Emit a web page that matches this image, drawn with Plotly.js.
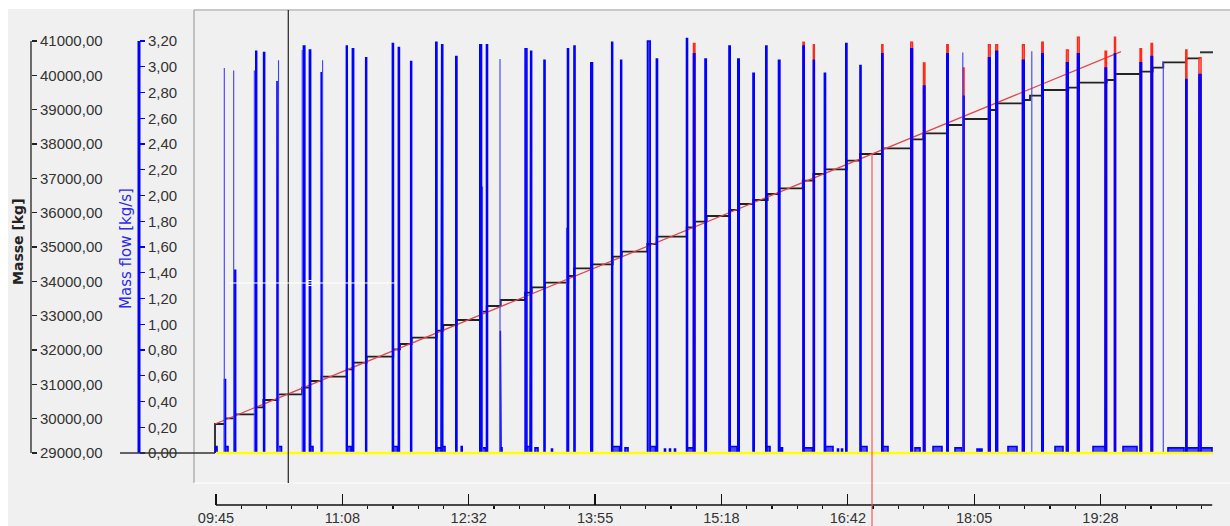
<!DOCTYPE html>
<html><head><meta charset="utf-8">
<script src="https://cdn.plot.ly/plotly-3.0.1.min.js"></script>
<style>html,body{margin:0;padding:0;background:#fff}#chart{width:1230px;height:526px}</style>
</head><body><div id="chart"></div>
<script>
const DAY = '2024-01-01 ';
// ---- Mass flow (blue) pulses: start, end, peak [kg/s]
const flowStart = ['09:44:40','09:50:36','09:51:16','09:57:24','10:11:15','10:16:24','10:25:14','10:25:38','10:42:38','10:46:36','10:47:23','10:54:23','11:11:00','11:11:32','11:14:57','11:23:44','11:41:20','11:42:00','11:45:17','11:53:24','12:09:57','12:10:41','12:13:51','12:14:31','12:23:09','12:26:43','12:38:59','12:40:06','12:43:23','12:52:30','12:52:58','13:08:51','13:10:02','13:12:32','13:15:23','13:21:19','13:26:16','13:36:49','13:41:06','13:52:11','14:05:58','14:06:34','14:11:54','14:14:44','14:29:34','14:31:21','14:35:26','14:40:47','14:44:05','14:47:23','14:55:18','14:55:57','14:59:55','15:07:30','15:23:19','15:24:07','15:29:08','15:39:09','15:47:35','15:48:19','15:55:58','15:57:57','16:12:08','16:12:55','16:18:59','16:26:14','16:26:58','16:34:53','16:37:31','16:40:21','16:49:43','16:50:23','17:04:06','17:04:49','17:23:13','17:25:59','17:31:36','17:37:52','17:46:58','17:52:22','17:57:47','18:06:53','18:09:11','18:14:28','18:19:17','18:27:19','18:36:53','18:49:37','18:58:19','19:05:54','19:13:10','19:23:23','19:31:22','19:37:34','19:43:10','19:54:26','20:01:42','20:12:50','20:24:35','20:25:19','20:33:17','20:34:37'];
const flowEnd = ['09:45:40','09:51:16','09:52:55','09:57:56','10:11:47','10:17:03','10:25:38','10:28:12','10:43:34','10:47:23','10:48:58','10:54:47','11:11:32','11:14:02','11:15:45','11:24:19','11:42:00','11:44:42','11:45:57','11:54:00','12:10:41','12:13:23','12:14:31','12:16:02','12:23:52','12:27:22','12:40:06','12:42:44','12:44:03','12:52:58','12:53:37','13:10:02','13:12:05','13:13:08','13:17:22','13:21:59','13:26:55','13:37:28','13:41:46','13:53:18','14:06:34','14:11:07','14:12:29','14:16:43','14:31:21','14:34:51','14:36:10','14:41:27','14:44:44','14:48:02','14:55:57','14:59:47','15:00:50','15:08:21','15:24:07','15:28:36','15:30:03','15:39:56','15:48:19','15:50:22','15:56:53','15:58:37','16:12:55','16:18:23','16:19:35','16:26:58','16:31:55','16:35:32','16:38:11','16:41:05','16:50:23','16:54:20','17:04:49','17:08:11','17:24:20','17:29:17','17:32:31','17:43:48','17:47:53','17:56:59','17:58:19','18:08:12','18:10:11','18:15:35','18:20:24','18:33:16','18:38:01','18:50:32','19:03:36','19:07:02','19:14:17','19:31:18','19:32:17','19:38:13','19:52:24','19:55:22','20:02:37','20:23:24','20:25:19','20:32:58','20:34:37','20:41:52'];
const flowPeak = [0.05,0.57,0.05,1.42,3.12,3.11,2.89,0.05,3.16,3.13,0.05,2.96,3.16,0.05,3.14,3.07,3.18,0.05,3.15,3.04,3.19,0.04,3.17,0.05,3.08,0.05,3.17,0.04,3.17,0.95,0.04,3.14,0.05,3.12,0.04,3.05,0.03,3.14,3.16,3.03,3.19,0.05,3.05,0.04,3.20,0.05,3.06,0.03,0.03,0.03,3.22,0.04,3.10,3.06,3.16,0.05,3.06,2.95,3.16,0.05,3.05,0.04,3.16,0.04,3.05,2.95,0.05,0.03,0.03,3.18,3.01,0.05,3.10,0.05,3.14,0.04,2.85,0.05,3.10,0.04,2.77,0.03,0.03,3.07,3.12,0.05,3.05,3.10,0.05,3.03,3.10,0.05,2.99,3.10,0.05,3.03,3.08,0.04,2.90,0.04,2.94,0.04];
// ---- short (thin) mass flow spikes
const spikeTime = ['09:50:28','09:56:40','10:10:16','10:26:13','10:41:51','10:55:18','12:40:46','12:52:18','13:36:09','17:57:31','18:43:01','20:09:44'];
const spikePeak = [2.99,2.97,2.97,3.05,3.13,3.05,2.07,3.06,1.75,3.11,3.12,3.04];
// ---- second flow signal (red) pulses
const redStart = ['14:59:55','16:12:08','16:18:59','17:04:06','17:23:13','17:31:36','17:46:58','17:57:47','18:14:28','18:19:17','18:36:53','18:49:37','19:05:54','19:13:10','19:31:22','19:37:34','19:54:26','20:01:42','20:24:35','20:33:17'];
const redEnd = ['15:00:50','16:12:55','16:19:35','17:04:49','17:24:20','17:32:31','17:47:53','17:58:19','18:15:35','18:20:24','18:38:01','18:50:32','19:07:02','19:14:17','19:32:17','19:38:13','19:55:22','20:02:37','20:25:19','20:34:37'];
const redPeak = [3.18,3.19,3.17,3.17,3.19,3.03,3.17,2.99,3.17,3.17,3.17,3.19,3.13,3.23,3.12,3.23,3.14,3.18,3.13,3.07];
// ---- Masse [kg] staircase
const massTime = ['09:44:20','09:44:20','09:50:56','09:57:32','10:11:23','10:16:11','10:26:05','10:41:43','10:47:00','10:54:43','11:11:12','11:15:33','11:24:23','11:41:56','11:46:21','11:54:04','12:10:33','12:14:54','12:23:44','12:39:07','12:43:32','12:52:46','13:08:47','13:13:12','13:21:59','13:37:20','13:41:06','13:52:46','14:06:37','14:12:34','14:29:26','14:35:38','14:55:26','15:00:54','15:08:37','15:23:31','15:30:07','15:39:21','15:48:51','15:56:30','16:11:56','16:18:55','16:26:38','16:40:57','16:49:43','17:04:26','17:23:21','17:31:28','17:47:34','17:57:50','18:14:59','18:19:52','18:37:25','18:41:50','18:50:13','19:07:05','19:13:41','19:32:25','19:37:53','19:55:02','20:02:45','20:09:44','20:24:43','20:33:57'];
const massValue = [29000,29845,30011,30127,30331,30544,30710,30902,31097,31222,31438,31630,31805,32020,32175,32358,32562,32728,32874,33116,33282,33456,33669,33826,33960,34155,34380,34496,34717,34863,35087,35300,35574,35737,35903,36078,36252,36369,36544,36710,36931,37126,37263,37514,37709,37875,38137,38312,38553,38728,38990,39185,39281,39407,39573,39640,39785,39864,40039,40106,40222,40380,40496,40496];
const lastMassTime = ['20:33:57','20:42:31'];
const lastMassValue = [40671,40671];
// ---- linear trend of mass
const trendTime = ['09:44:20','19:41:51'];
const trendMass = [29845,40689];
// ---- zero flow line (yellow)
const zeroTime = ['09:45:00','20:42:31'];
const zeroValue = [0,0];
// ---- cursors
const cursorTime = '10:32:41';
const markerTime = '16:57:38';
const whiteLineTime = ['09:52:55','11:44:22'];
const whiteLineMass = 33951;
const whiteMarkTime = '10:47:00';
const axisStart = '09:45:00', axisEnd = '20:42:00';
// ---- axes ticks
const majorTickTimes = ['09:45:00','11:08:20','12:31:40','13:55:00','15:18:20','16:41:40','18:05:00','19:28:20'];
const majorTickLabels = ['09:45','11:08','12:32','13:55','15:18','16:42','18:05','19:28'];
const minorTickTimes = ['10:01:40','10:18:20','10:35:00','10:51:40','11:25:00','11:41:40','11:58:20','12:15:00','12:48:20','13:05:00','13:21:40','13:38:20','14:11:40','14:28:20','14:45:00','15:01:40','15:35:00','15:51:40','16:08:20','16:25:00','16:58:20','17:15:00','17:31:40','17:48:20','18:21:40','18:38:20','18:55:00','19:11:40','19:45:00','20:01:40','20:18:20','20:35:00'];
const massTicks = [29000,30000,31000,32000,33000,34000,35000,36000,37000,38000,39000,40000,41000];
const massTickLabels = ['29000,00','30000,00','31000,00','32000,00','33000,00','34000,00','35000,00','36000,00','37000,00','38000,00','39000,00','40000,00','41000,00'];
const flowTicks = [0,0.2,0.4,0.6,0.8,1.0,1.2,1.4,1.6,1.8,2.0,2.2,2.4,2.6,2.8,3.0,3.2];
const flowTickLabels = ['0,00','0,20','0,40','0,60','0,80','1,00','1,20','1,40','1,60','1,80','2,00','2,20','2,40','2,60','2,80','3,00','3,20'];

// ---------- build ----------
const T = t => DAY + t;
const W = 1230, H = 526, MT = 10, MB = 21;
const plotH = H - MT - MB;
const yDom0 = (H - MB - 483) / plotH;
const pyToPaper = py => (H - MB - py) / plotH;
const massRange = [28126.2, 41902.9];
const flowRange = [-0.2330, 3.4408];

function pulseXY(starts, ends, peaks) {
  const x = [], y = [];
  for (let i = 0; i < starts.length; i++) {
    x.push(T(starts[i]), T(starts[i]), T(ends[i]), T(ends[i]));
    y.push(0, peaks[i], peaks[i], 0);
  }
  return {x, y};
}
const main = pulseXY(flowStart, flowEnd, flowPeak);
const red = pulseXY(redStart, redEnd, redPeak);
const sx = [], sy = [];
spikeTime.forEach((t, i) => { sx.push(T(t), T(t), null); sy.push(0, spikePeak[i], null); });

const ms = t => Date.parse('2024-01-01T' + t + 'Z');
const frac = (ms(markerTime) - ms(trendTime[0])) / (ms(trendTime[1]) - ms(trendTime[0]));
const markerMass = trendMass[0] + frac * (trendMass[1] - trendMass[0]);
const markerPaper = yDom0 + (markerMass - massRange[0]) / (massRange[1] - massRange[0]) * (1 - yDom0);

const FONT = 'Liberation Sans, Arial, sans-serif';
const TFONT = 'DejaVu Sans, Verdana, sans-serif';
const traces = [
  {x: red.x, y: red.y, yaxis: 'y2', mode: 'lines', line: {color: '#ff2a1a', width: 1.5}, hoverinfo: 'skip'},
  {x: main.x, y: main.y, yaxis: 'y2', mode: 'lines', line: {color: '#0000ff', width: 1.6}, fill: 'tozeroy', fillcolor: 'rgba(0,0,255,0.7)', hoverinfo: 'skip'},
  {x: sx, y: sy, yaxis: 'y2', mode: 'lines', line: {color: '#3d3dff', width: 1.1}, hoverinfo: 'skip'},
  {x: zeroTime.map(T), y: zeroValue, yaxis: 'y2', mode: 'lines', line: {color: '#ffff00', width: 2.5}, hoverinfo: 'skip'},
  {x: massTime.map(T), y: massValue, mode: 'lines', line: {color: '#222222', width: 1.8, shape: 'hv'}, hoverinfo: 'skip'},
  {x: lastMassTime.map(T), y: lastMassValue, mode: 'lines', line: {color: '#333333', width: 2}, hoverinfo: 'skip'},
  {x: trendTime.map(T), y: trendMass, mode: 'lines', line: {color: '#e8474a', width: 1.3}, hoverinfo: 'skip'}
];

const shapes = [
  {type: 'rect', xref: 'paper', yref: 'paper', x0: 8 / W, x1: 1, y0: pyToPaper(526), y1: pyToPaper(9), fillcolor: '#f0f0f0', line: {width: 0}, layer: 'below'},
  {type: 'line', xref: 'paper', yref: 'paper', x0: 194 / W, x1: 194 / W, y0: yDom0, y1: 1, line: {color: '#a0a0a0', width: 1.2}},
  {type: 'line', xref: 'paper', yref: 'paper', x0: 194 / W, x1: 1, y0: 1, y1: 1, line: {color: '#a0a0a0', width: 1.2}},
  {type: 'line', xref: 'paper', yref: 'paper', x0: 194 / W, x1: 1, y0: yDom0, y1: yDom0, line: {color: '#ffffff', width: 1.2}},
  {type: 'line', xref: 'paper', yref: 'y', x0: 31 / W, x1: 31 / W, y0: massTicks[0], y1: massTicks[massTicks.length - 1], line: {color: '#222222', width: 1.3}},
  {type: 'line', xref: 'paper', yref: 'y2', x0: 139 / W, x1: 139 / W, y0: flowTicks[0], y1: flowTicks[flowTicks.length - 1], line: {color: '#0000ff', width: 3}},
  {type: 'line', xref: 'paper', yref: 'y', x0: 120 / W, x1: 215 / W, y0: massTicks[0], y1: massTicks[0], line: {color: '#333333', width: 1.3}},
  {type: 'line', xref: 'x', yref: 'paper', x0: T(axisStart), x1: T(axisEnd), y0: 0, y1: 0, line: {color: '#111111', width: 1.3}},
  {type: 'line', xref: 'x', yref: 'paper', x0: T(cursorTime), x1: T(cursorTime), y0: yDom0, y1: 1, line: {color: '#333333', width: 1.3}},
  {type: 'line', xref: 'x', yref: 'paper', x0: T(markerTime), x1: T(markerTime), y0: pyToPaper(526), y1: markerPaper, line: {color: '#ff4a4a', width: 1.1}},
  {type: 'line', xref: 'x', yref: 'y', x0: T(whiteLineTime[0]), x1: T(whiteLineTime[1]), y0: whiteLineMass, y1: whiteLineMass, line: {color: '#ffffff', width: 1.2}},
  {type: 'rect', xref: 'x', yref: 'y', xsizemode: 'pixel', ysizemode: 'pixel', xanchor: T(whiteMarkTime), yanchor: whiteLineMass, x0: -2.5, x1: 2.5, y0: -2.5, y1: 2.5, line: {color: '#ffffff', width: 1}}
];

const layout = {
  width: W, height: H,
  margin: {l: 0, r: 0, t: MT, b: MB, pad: 0},
  paper_bgcolor: '#ffffff', plot_bgcolor: 'rgba(0,0,0,0)',
  showlegend: false,
  font: {family: FONT, size: 15, color: '#333333'},
  xaxis: {
    type: 'date', domain: [194 / W, 1], range: [T('09:30:29'), T('20:53:44')],
    anchor: 'free', position: 0, showline: false, showgrid: false, zeroline: false,
    tickmode: 'array', tickvals: majorTickTimes.map(T), ticktext: majorTickLabels,
    ticks: 'inside', ticklen: 11, tickwidth: 1.3, tickcolor: '#111111', ticklabelstandoff: 2,
    tickfont: {family: FONT, size: 14.5, color: '#333333'},
    minor: {tickmode: 'array', tickvals: minorTickTimes.map(T), ticks: 'outside', ticklen: 3, tickwidth: 1.2, tickcolor: '#111111', showgrid: false}
  },
  yaxis: {
    domain: [yDom0, 1], range: massRange, anchor: 'free', position: 31 / W, side: 'right',
    showline: false, showgrid: false, zeroline: false,
    tickmode: 'array', tickvals: massTicks, ticktext: massTickLabels,
    ticks: 'outside', ticklen: 5, tickwidth: 1.2, tickcolor: '#222222',
    tickfont: {family: FONT, size: 15, color: '#333333'}
  },
  yaxis2: {
    overlaying: 'y', range: flowRange, anchor: 'free', position: 139 / W, side: 'right',
    showline: false, showgrid: false, zeroline: false,
    tickmode: 'array', tickvals: flowTicks, ticktext: flowTickLabels,
    ticks: 'outside', ticklen: 5, tickwidth: 1.2, tickcolor: '#0000ff',
    tickfont: {family: FONT, size: 15, color: '#333333'}
  },
  shapes: shapes,
  annotations: [
    {text: 'Masse [kg]', xref: 'paper', yref: 'paper', x: 18 / W, y: pyToPaper(242), textangle: -90, showarrow: false, xanchor: 'center', yanchor: 'middle', font: {family: TFONT, size: 14, color: '#222222', weight: 'bold'}},
    {text: 'Mass flow [kg/s]', xref: 'paper', yref: 'paper', x: 126 / W, y: pyToPaper(248), textangle: -90, showarrow: false, xanchor: 'center', yanchor: 'middle', font: {family: TFONT, size: 15, color: '#2a2af0'}}
  ]
};

Plotly.newPlot('chart', traces, layout, {displayModeBar: false, staticPlot: true});
</script>
</body></html>
